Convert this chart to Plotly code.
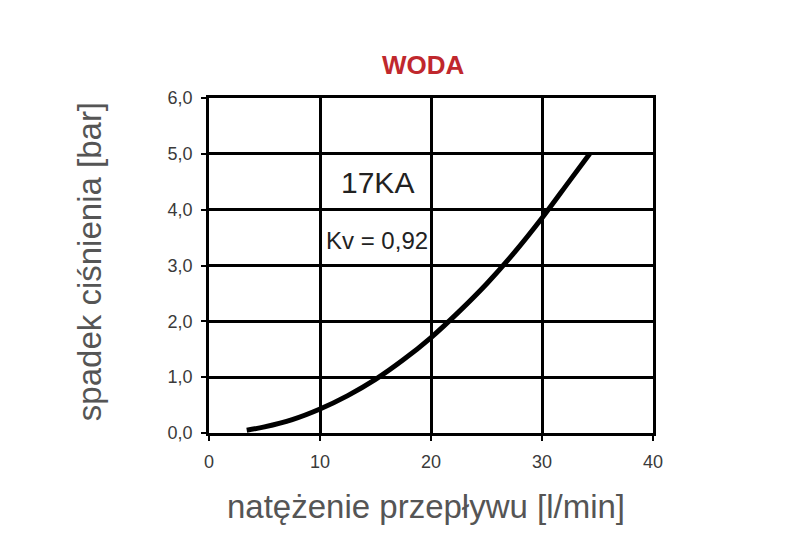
import plotly.graph_objects as go

# Data
flow_lpm = [3.4, 5.0, 7.5, 10.0, 12.5, 15.0, 17.5, 20.0, 22.5, 25.0, 27.5, 30.0, 32.5, 34.3]
pressure_bar = [0.05, 0.11, 0.24, 0.43, 0.67, 0.96, 1.31, 1.71, 2.17, 2.67, 3.23, 3.85, 4.52, 5.0]

x_ticks = [0, 10, 20, 30, 40]
x_ticktext = ["0", "10", "20", "30", "40"]
y_ticks = [0, 1, 2, 3, 4, 5, 6]
y_ticktext = ["0,0", "1,0", "2,0", "3,0", "4,0", "5,0", "6,0"]

title_text = "WODA"
model_text = "17KA"
kv_text = "Kv = 0,92"
x_title = "natężenie przepływu [l/min]"
y_title = "spadek ciśnienia [bar]"

fig = go.Figure()
fig.add_trace(go.Scatter(
    x=flow_lpm, y=pressure_bar, mode="lines",
    line=dict(color="black", width=5, shape="spline", smoothing=1.0),
    showlegend=False, hoverinfo="skip",
))

font_family = "Liberation Sans, Arial, sans-serif"
axis_common = dict(
    showgrid=True, gridcolor="black", gridwidth=2.5,
    showline=True, linecolor="black", linewidth=2.5, mirror=True,
    zeroline=False, ticks="outside", ticklen=5, tickwidth=2, tickcolor="black",
    tickfont=dict(family=font_family, size=18, color="#3a3a3a"),
)

fig.update_layout(
    width=787, height=551,
    margin=dict(l=201, r=142, t=90, b=126),
    paper_bgcolor="white", plot_bgcolor="white",
    xaxis=dict(range=[0, 40], tickvals=x_ticks, ticktext=x_ticktext,
               ticklabelstandoff=6, **axis_common),
    yaxis=dict(range=[0, 6], tickvals=y_ticks, ticktext=y_ticktext,
               ticklabelstandoff=5, **axis_common),
    annotations=[
        dict(text=f"<b>{title_text}</b>", xref="paper", yref="paper", x=0.482, y=1,
             yshift=33, xanchor="center", yanchor="middle", showarrow=False,
             font=dict(family=font_family, size=26, color="#c0282d")),
        dict(text=model_text, xref="x", yref="y", x=15.2, y=4.49,
             xanchor="center", yanchor="middle", showarrow=False,
             font=dict(family=font_family, size=30, color="#222222")),
        dict(text=kv_text, xref="x", yref="y", x=15.1, y=3.44,
             xanchor="center", yanchor="middle", showarrow=False,
             font=dict(family=font_family, size=24, color="#222222")),
        dict(text=x_title, xref="paper", yref="paper", x=0.488, y=0, yshift=-73,
             xanchor="center", yanchor="middle", showarrow=False,
             font=dict(family=font_family, size=33, color="#555555")),
        dict(text=y_title, xref="paper", yref="paper", x=0, y=0.51, xshift=-120,
             xanchor="center", yanchor="middle", textangle=-90, showarrow=False,
             font=dict(family=font_family, size=33, color="#555555")),
    ],
)

fig.write_html("out.html")
